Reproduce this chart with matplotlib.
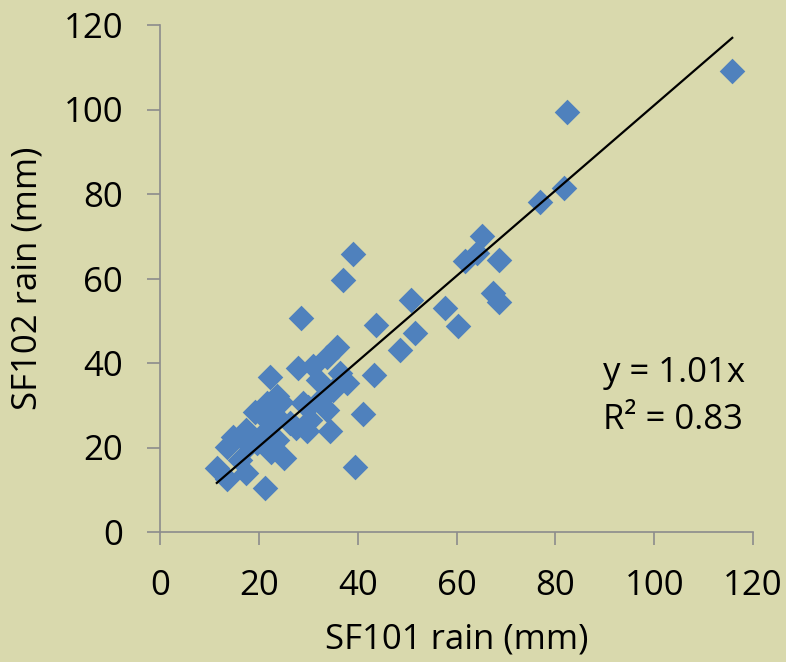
import numpy as np
import matplotlib.pyplot as plt

# rain totals (mm)
sf101 = [115.8, 82.4, 81.8, 76.9, 65.2, 64.1, 61.7, 68.6, 67.3, 68.6,
         50.7, 57.7, 60.4, 51.6, 48.6, 43.8, 43.3, 41.0, 39.4, 39.1,
         37.0, 28.6, 35.8, 33.7, 28.0, 31.0, 22.3, 36.4, 32.0, 37.8,
         35.1, 23.6, 29.0, 21.6, 19.2, 33.7, 23.6, 30.4, 26.3, 34.4,
         29.7, 21.6, 14.8, 17.5, 19.6, 23.6, 13.5, 25.0, 16.2, 17.5,
         11.5, 13.5, 21.2, 20.6, 24.5, 32.5, 18.0, 27.5, 30.0, 22.5]
sf102 = [109.0, 99.3, 81.5, 78.0, 70.0, 66.0, 64.1, 64.4, 56.6, 54.4,
         55.0, 53.0, 48.8, 47.1, 43.0, 49.0, 37.2, 28.0, 15.4, 65.9,
         59.7, 50.6, 43.8, 41.5, 38.8, 39.2, 36.6, 37.6, 36.0, 35.2,
         33.6, 32.1, 30.5, 30.5, 28.5, 28.9, 27.3, 26.5, 25.8, 23.8,
         23.8, 24.2, 22.6, 24.2, 21.0, 21.8, 20.2, 17.6, 17.0, 13.9,
         15.2, 12.5, 10.5, 27.8, 30.8, 31.5, 20.5, 24.5, 29.5, 19.0]

slope = 1.01
r2 = 0.83

bg = '#d9d9ad'
plt.rcParams['font.family'] = ['Open Sans', 'DejaVu Sans']

fig = plt.figure(figsize=(7.86, 6.62), dpi=100, facecolor=bg)
ax = fig.add_axes([160/786, 1 - 532/662, (753-160)/786, (532-25)/662])
ax.set_facecolor(bg)

ax.scatter(sf101, sf102, marker='D', s=170, color='#4f81bd', linewidths=0, zorder=2)

# trend line through origin
xs = np.array([min(sf101), max(sf101)])
ax.plot(xs, slope * xs, color='black', lw=1.6, zorder=3)

ax.set_xlim(0, 120)
ax.set_ylim(0, 120)
ax.set_xticks(np.arange(0, 121, 20))
ax.set_yticks(np.arange(0, 121, 20))

for side in ['top', 'right']:
    ax.spines[side].set_visible(False)
for side in ['left', 'bottom']:
    ax.spines[side].set_color('#8c8c8c')
    ax.spines[side].set_linewidth(1.2)
ax.tick_params(direction='out', length=9.5, width=1.2, color='#8c8c8c',
               labelsize=25, labelcolor='black', pad=17)

ax.set_xlabel('SF101 rain (mm)', fontsize=25, labelpad=14)
ax.set_ylabel('SF102 rain (mm)', fontsize=25, labelpad=14)

ax.text(0.747, 0.296, f'y = {slope:.2f}x', transform=ax.transAxes,
        fontsize=25, va='baseline', ha='left')
ax.text(0.747, 0.203, f'R² = {r2:.2f}', transform=ax.transAxes,
        fontsize=25, va='baseline', ha='left')

fig.savefig('out.png', dpi=100, facecolor=bg)
